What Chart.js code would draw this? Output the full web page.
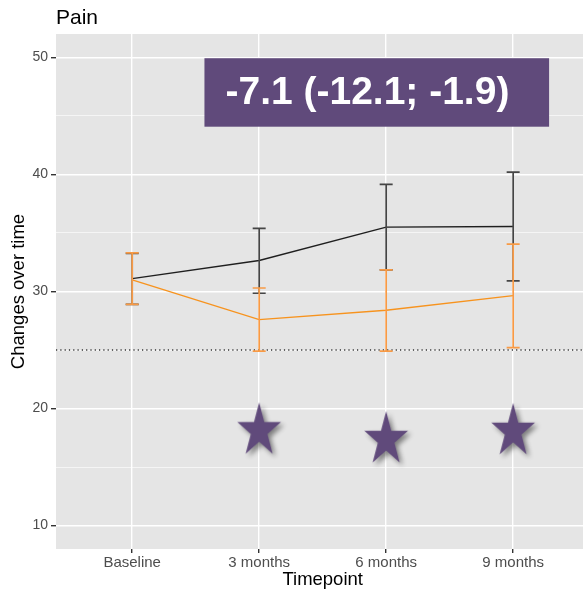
<!DOCTYPE html>
<html>
<head>
<meta charset="utf-8">
<script src="https://cdn.jsdelivr.net/npm/chart.js@4/dist/chart.umd.min.js"></script>
<style>
  html, body { margin: 0; padding: 0; background: #ffffff; overflow: hidden; }
  canvas { display: block; }
</style>
</head>
<body>
<canvas id="chart" width="583" height="591"></canvas>
<script>
// Timepoints on the x axis
const categories = ['Baseline', '3 months', '6 months', '9 months'];

// Group drawn in black: mean and confidence limits
const blackMean  = [31.1, 32.65, 35.5, 35.55];
const blackLower = [28.9, 29.85, 31.85, 30.9];
const blackUpper = [33.25, 35.4, 39.15, 40.2];

// Group drawn in orange: mean and confidence limits
const orangeMean  = [31.0, 27.6, 28.4, 29.65];
const orangeLower = [28.9, 24.9, 24.9, 25.2];
const orangeUpper = [33.3, 30.3, 31.85, 34.05];

// Significance markers (null = no marker)
const starValues = [null, 18.1, 17.35, 18.05];

// Reference threshold
const referenceLine = 25;

// Y axis breaks (labels only on multiples of 10)
const yTicks = [10, 15, 20, 25, 30, 35, 40, 45, 50];

// Effect estimate shown in the banner
const effectText = '-7.1 (-12.1; -1.9)';

const FONT = "'Liberation Sans', Arial, Helvetica, sans-serif";
const PANEL = '#E5E5E5';
const PURPLE = '#604A7B';
const BLACK_LINE = '#1f1f1f';
const BLACK_BAR = '#454545';
const ORANGE = '#F7931E';
const ORANGE_BAR = '#F89A45';

// Filled five-point star with a soft drop shadow, used as the marker image
function makeStar() {
  const rx = 23, ry = 28.5, pad = 10;
  const c = document.createElement('canvas');
  c.width = Math.ceil(2 * rx + 2 * pad);
  c.height = Math.ceil(2 * ry + 2 * pad);
  const ctx = c.getContext('2d');
  const cx = c.width / 2, cy = c.height / 2;
  ctx.shadowColor = 'rgba(0,0,0,0.45)';
  ctx.shadowBlur = 5;
  ctx.shadowOffsetX = 3;
  ctx.shadowOffsetY = 3;
  ctx.beginPath();
  for (let i = 0; i < 10; i++) {
    const r = i % 2 === 0 ? 1 : 0.382;
    const a = -Math.PI / 2 + i * Math.PI / 5;
    const px = cx + Math.cos(a) * rx * r;
    const py = cy + Math.sin(a) * ry * r;
    if (i === 0) ctx.moveTo(px, py); else ctx.lineTo(px, py);
  }
  ctx.closePath();
  ctx.fillStyle = PURPLE;
  ctx.fill();
  return c;
}
const starImage = makeStar();

const toPoints = (arr) => arr.map((v, i) => ({ x: i + 1, y: v }));

// Panel background, reference line, error bars, banner and titles
const decorations = {
  id: 'decorations',
  beforeDraw(chart) {
    const { ctx, chartArea: a } = chart;
    ctx.save();
    ctx.fillStyle = '#ffffff';
    ctx.fillRect(0, 0, chart.width, chart.height);
    ctx.fillStyle = PANEL;
    ctx.fillRect(a.left, a.top, a.right - a.left, a.bottom - a.top);
    ctx.restore();
  },
  beforeDatasetsDraw(chart) {
    const { ctx, chartArea: a, scales: { y } } = chart;
    const py = y.getPixelForValue(referenceLine);
    ctx.save();
    ctx.strokeStyle = '#333333';
    ctx.lineWidth = 1.3;
    ctx.setLineDash([1.2, 3.1]);
    ctx.beginPath();
    ctx.moveTo(a.left, py);
    ctx.lineTo(a.right, py);
    ctx.stroke();
    ctx.restore();
  },
  afterDatasetDraw(chart, args) {
    const ds = chart.data.datasets[args.index];
    if (!ds.errLower) return;
    const { ctx, scales: { x, y } } = chart;
    ctx.save();
    ctx.strokeStyle = ds.errColor;
    ctx.lineWidth = 1.7;
    const half = 6.5;
    ds.errLower.forEach((lo, i) => {
      const px = x.getPixelForValue(i + 1);
      const pl = y.getPixelForValue(lo);
      const pu = y.getPixelForValue(ds.errUpper[i]);
      ctx.beginPath();
      ctx.moveTo(px, pl); ctx.lineTo(px, pu);
      ctx.moveTo(px - half, pl); ctx.lineTo(px + half, pl);
      ctx.moveTo(px - half, pu); ctx.lineTo(px + half, pu);
      ctx.stroke();
    });
    ctx.restore();
  },
  afterDraw(chart) {
    const { ctx, chartArea: a, scales: { x, y } } = chart;
    ctx.save();
    // banner with the effect estimate
    const bx0 = x.getPixelForValue(1.569), bx1 = x.getPixelForValue(4.283);
    const by0 = y.getPixelForValue(49.93), by1 = y.getPixelForValue(44.08);
    ctx.fillStyle = PURPLE;
    ctx.fillRect(bx0, by0, bx1 - bx0, by1 - by0);
    ctx.fillStyle = '#ffffff';
    ctx.font = 'bold 39px ' + FONT;
    ctx.textAlign = 'left';
    ctx.textBaseline = 'middle';
    ctx.fillText(effectText, bx0 + 21, (by0 + by1) / 2 + 1);

    // plot title
    ctx.fillStyle = '#000000';
    ctx.font = '21px ' + FONT;
    ctx.textAlign = 'left';
    ctx.textBaseline = 'alphabetic';
    ctx.fillText('Pain', a.left, 23.5);

    // axis titles
    ctx.font = '18.5px ' + FONT;
    ctx.textAlign = 'center';
    ctx.textBaseline = 'middle';
    ctx.fillText('Timepoint', x.getPixelForValue(2.5), 580);
    ctx.translate(19, (a.top + a.bottom) / 2);
    ctx.rotate(-Math.PI / 2);
    ctx.fillText('Changes over time', 0, 0);
    ctx.restore();
  }
};

new Chart(document.getElementById('chart'), {
  type: 'line',
  data: {
    datasets: [
      {
        data: toPoints(blackMean),
        borderColor: BLACK_LINE,
        borderWidth: 1.4,
        pointRadius: 0,
        tension: 0,
        order: 3,
        errLower: blackLower,
        errUpper: blackUpper,
        errColor: BLACK_BAR
      },
      {
        data: toPoints(orangeMean),
        borderColor: ORANGE,
        borderWidth: 1.4,
        pointRadius: 0,
        tension: 0,
        order: 2,
        errLower: orangeLower,
        errUpper: orangeUpper,
        errColor: ORANGE_BAR
      },
      {
        data: toPoints(starValues),
        showLine: false,
        pointStyle: starImage,
        pointRadius: 20,
        pointHoverRadius: 20,
        order: 1,
        clip: false
      }
    ]
  },
  options: {
    responsive: false,
    devicePixelRatio: 1,
    animation: false,
    events: [],
    layout: { autoPadding: false, padding: { top: 34, left: 0, right: 0, bottom: 0 } },
    plugins: {
      legend: { display: false },
      tooltip: { enabled: false },
      title: { display: false }
    },
    scales: {
      x: {
        type: 'linear',
        min: 0.4,
        max: 4.55,
        afterBuildTicks(scale) {
          scale.ticks = categories.map((_, i) => ({ value: i + 1 }));
        },
        afterFit(scale) {
          scale.height = 42;
          scale.paddingLeft = 0;
          scale.paddingRight = 0;
        },
        border: { display: false },
        grid: {
          color: '#ffffff',
          lineWidth: 1.4,
          tickLength: 4,
          tickColor: '#333333',
          drawTicks: true
        },
        ticks: {
          autoSkip: false,
          maxRotation: 0,
          padding: 1,
          color: '#4D4D4D',
          font: { family: FONT, size: 15 },
          callback: (value) => categories[Math.round(value) - 1] || ''
        }
      },
      y: {
        min: 8,
        max: 52,
        afterBuildTicks(scale) {
          scale.ticks = yTicks.map(v => ({ value: v }));
        },
        afterFit(scale) {
          scale.width = 56;
          scale.paddingTop = 0;
          scale.paddingBottom = 0;
        },
        border: { display: false },
        grid: {
          color: '#ffffff',
          lineWidth: (ctx) => (ctx.tick && ctx.tick.value % 10 === 0) ? 1.4 : 0.6,
          tickLength: 5,
          tickColor: (ctx) => (ctx.tick && ctx.tick.value % 10 === 0) ? '#333333' : 'rgba(0,0,0,0)',
          drawTicks: true
        },
        ticks: {
          padding: 3,
          color: '#4D4D4D',
          font: { family: FONT, size: 14 },
          callback: (value) => value % 10 === 0 ? String(value) : ''
        }
      }
    }
  },
  plugins: [decorations]
});
</script>
</body>
</html>
